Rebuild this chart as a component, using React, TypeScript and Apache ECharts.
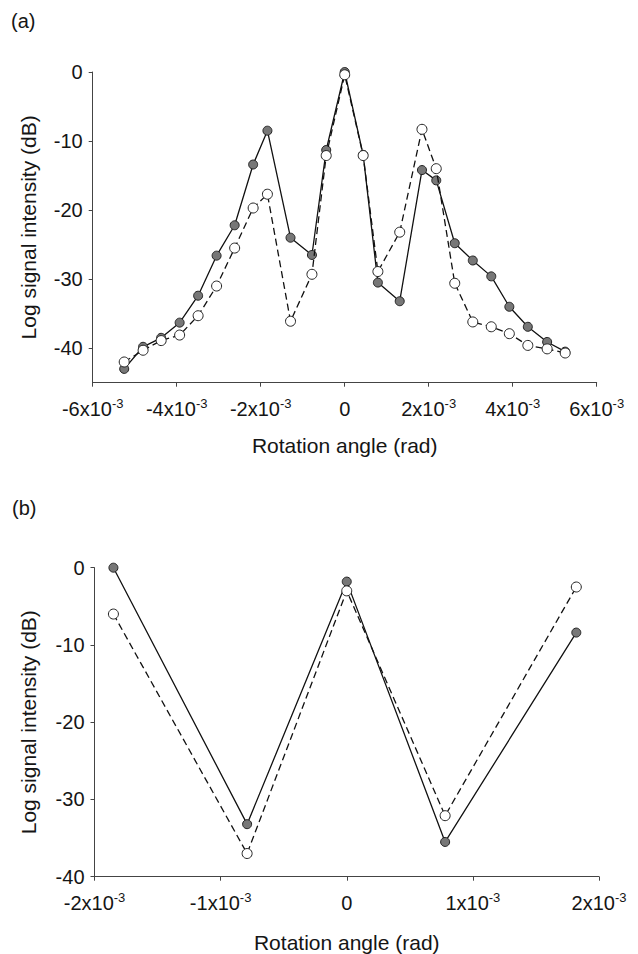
import React, { useEffect, useRef } from "react";
import * as echarts from "echarts";

// Panel (a): rotation angle in units of 1e-3 rad
const anglesA = [-5.25, -4.8, -4.37, -3.93, -3.49, -3.05, -2.62, -2.18, -1.84, -1.29, -0.78, -0.44, 0, 0.44, 0.79, 1.31, 1.84, 2.18, 2.62, 3.05, 3.49, 3.92, 4.36, 4.82, 5.25];
const filledA = [-43.0, -39.8, -38.5, -36.3, -32.4, -26.6, -22.2, -13.4, -8.5, -24.0, -26.5, -11.3, 0, -12.0, -30.5, -33.2, -14.2, -15.7, -24.8, -27.3, -29.6, -34.0, -36.9, -39.1, -40.5];
const openA = [-42.0, -40.3, -38.9, -38.1, -35.3, -31.0, -25.5, -19.7, -17.7, -36.1, -29.3, -12.1, -0.4, -12.1, -28.9, -23.2, -8.3, -14.0, -30.6, -36.2, -36.9, -37.9, -39.6, -40.1, -40.7];

// Panel (b)
const anglesB = [-1.85, -0.79, 0, 0.78, 1.82];
const filledB = [0, -33.2, -1.8, -35.5, -8.4];
const openB = [-6.0, -37.0, -3.0, -32.1, -2.5];

// Tick labels
const xTicksA = [-6, -4, -2, 0, 2, 4, 6];
const yTicksA = [-40, -30, -20, -10, 0];
const xTicksB = [-2, -1, 0, 1, 2];
const yTicksB = [-40, -30, -20, -10, 0];

const FONT = "'Liberation Sans', Arial, Helvetica, sans-serif";
const TXT = "#151515";

function xLabel(v: number) {
  if (Math.abs(v) < 1e-9) return "{m|0}";
  return `{m|${v}x10}{s|-3}`;
}

const richX = {
  m: { fontSize: 20, fontFamily: FONT, color: TXT, lineHeight: 24 },
  s: { fontSize: 13, fontFamily: FONT, color: TXT, lineHeight: 13, verticalAlign: "top" },
};

function zip(xs: number[], ys: number[]) {
  return xs.map((x, i) => [x, ys[i]]);
}

export default function App() {
  const ref = useRef<HTMLDivElement>(null);
  useEffect(() => {
    if (!ref.current) return;
    const chart = echarts.init(ref.current, null, { renderer: "svg" });
    const axisLine = { show: true, onZero: false, lineStyle: { color: "#444", width: 1 } };
    const axisTick = (vals: number[]) => ({ show: true, inside: false, length: 4, lineStyle: { color: "#444" }, customValues: vals });
    const yName = "Log signal intensity (dB)";
    const xName = "Rotation angle (rad)";
    const nameStyle = { fontSize: 21, fontFamily: FONT, color: TXT };
    const filledStyle = {
      type: "line",
      symbol: "circle",
      symbolSize: 9,
      lineStyle: { color: "#111", width: 1.3, type: "solid" },
      itemStyle: { color: "#777", borderColor: "#222", borderWidth: 1 },
      z: 2,
    };
    const openStyle = {
      type: "line",
      symbol: "circle",
      symbolSize: 10,
      lineStyle: { color: "#111", width: 1.3, type: [7, 4] },
      itemStyle: { color: "#fff", borderColor: "#222", borderWidth: 1 },
      z: 3,
    };
    chart.setOption({
      animation: false,
      backgroundColor: "#fff",
      title: [
        { text: "(a)", left: 11, top: 11, padding: 0, textStyle: { fontSize: 20, fontWeight: "normal", fontFamily: FONT, color: TXT } },
        { text: "(b)", left: 12, top: 498, padding: 0, textStyle: { fontSize: 20, fontWeight: "normal", fontFamily: FONT, color: TXT } },
      ],
      grid: [
        { left: 92.7, right: 41.3, top: 72, height: 310.7 },
        { left: 94.5, right: 39, top: 567.7, height: 309 },
      ],
      xAxis: [
        {
          type: "value", gridIndex: 0, min: -6, max: 6,
          axisLine, axisTick: axisTick(xTicksA), splitLine: { show: false },
          axisLabel: { customValues: xTicksA, formatter: xLabel, rich: richX, margin: 14 },
          name: xName, nameLocation: "middle", nameGap: 52, nameTextStyle: nameStyle,
        },
        {
          type: "value", gridIndex: 1, min: -2, max: 2,
          axisLine, axisTick: axisTick(xTicksB), splitLine: { show: false },
          axisLabel: { customValues: xTicksB, formatter: xLabel, rich: richX, margin: 14 },
          name: xName, nameLocation: "middle", nameGap: 55, nameTextStyle: nameStyle,
        },
      ],
      yAxis: [
        {
          type: "value", gridIndex: 0, min: -45, max: 0,
          axisLine, axisTick: axisTick(yTicksA), splitLine: { show: false },
          axisLabel: { customValues: yTicksA, fontSize: 20, fontFamily: FONT, color: TXT, margin: 10 },
          name: yName, nameLocation: "middle", nameGap: 54, nameTextStyle: nameStyle,
        },
        {
          type: "value", gridIndex: 1, min: -40, max: 0,
          axisLine, axisTick: axisTick(yTicksB), splitLine: { show: false },
          axisLabel: { customValues: yTicksB, fontSize: 20, fontFamily: FONT, color: TXT, margin: 10 },
          name: yName, nameLocation: "middle", nameGap: 56, nameTextStyle: nameStyle,
        },
      ],
      series: [
        { ...filledStyle, name: "filled (a)", xAxisIndex: 0, yAxisIndex: 0, data: zip(anglesA, filledA) },
        { ...openStyle, name: "open (a)", xAxisIndex: 0, yAxisIndex: 0, data: zip(anglesA, openA) },
        { ...filledStyle, name: "filled (b)", xAxisIndex: 1, yAxisIndex: 1, data: zip(anglesB, filledB) },
        { ...openStyle, name: "open (b)", xAxisIndex: 1, yAxisIndex: 1, data: zip(anglesB, openB) },
      ],
    });
    return () => chart.dispose();
  }, []);
  return (
    <div
      ref={ref}
      style={{ position: "absolute", left: 0, top: 0, width: 638, height: 954, background: "#fff" }}
    />
  );
}
